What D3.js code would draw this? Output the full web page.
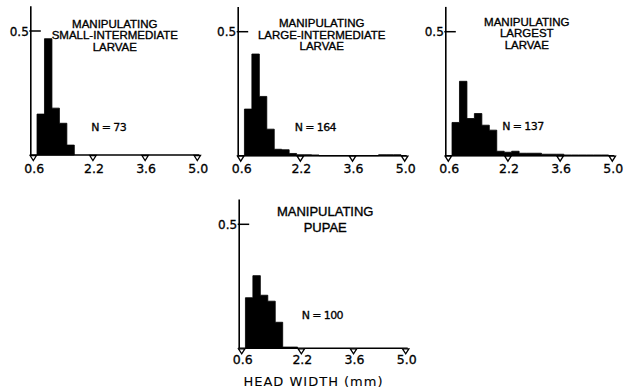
<!DOCTYPE html>
<html>
<head>
<meta charset="utf-8">
<script src="https://cdn.jsdelivr.net/npm/d3@7"></script>
<style>
  body { margin: 0; background: #fff; }
  text { font-family: "DejaVu Sans", "Liberation Sans", Arial, sans-serif; fill: #000; stroke: #000; stroke-width: 0.3px; }
  text.title { font-family: "Liberation Sans", Arial, sans-serif; stroke-width: 0.35px; }
</style>
</head>
<body>
<div id="my_dataviz"></div>
<script>
// bin lower edges (mm), each bin is 0.2 mm wide
var binStart = [0.7, 0.9, 1.1, 1.3, 1.5, 1.7, 1.9, 2.1, 2.3, 2.5, 2.7, 2.9, 3.1, 3.3, 3.5, 3.7, 3.9, 4.1, 4.3, 4.5, 4.7];
var binWidth = 0.2;

// proportion of individuals in each bin, one array per panel
var smallInterLarvae = [0.165, 0.469, 0.189, 0.128, 0.040];
var largeInterLarvae = [0.188, 0.410, 0.239, 0.107, 0.026, 0.024, 0.009, 0.004, 0.004, 0.003, 0, 0, 0, 0, 0, 0, 0, 0, 0.004, 0.004, 0.004];
var largestLarvae = [0.134, 0.300, 0.150, 0.170, 0.123, 0.103, 0.018, 0.014, 0.018, 0.010, 0.010, 0.010, 0.006, 0.006, 0.006, 0.003, 0.003, 0.003, 0.003, 0.003, 0.003];
var pupae = [0.204, 0.293, 0.214, 0.190, 0.105, 0.005, 0.005];

var panelTitles = [
  ["MANIPULATING", "SMALL-INTERMEDIATE", "LARVAE"],
  ["MANIPULATING", "LARGE-INTERMEDIATE", "LARVAE"],
  ["MANIPULATING", "LARGEST", "LARVAE"],
  ["MANIPULATING", "PUPAE"]
];
var panelN = ["N = 73", "N = 164", "N = 137", "N = 100"];
var panelValues = [smallInterLarvae, largeInterLarvae, largestLarvae, pupae];

var xTicks = [0.6, 2.2, 3.6, 5.0];
var xTickLabels = ["0.6", "2.2", "3.6", "5.0"];
var yTicks = [0.5];
var xLabel = "HEAD WIDTH (mm)";

// where each small panel sits (origin = x of 0.6, baseline)
var layout = [
  {ox: 33.3,  oy: 155,   tx: 81.5, ty: [-127, -115.7, -104.3], tsize: 11.5, nx: 58, ny: -24.5},
  {ox: 240.7, oy: 155.7, tx: 81,   ty: [-128.4, -117, -105.6], tsize: 11.5, nx: 54, ny: -24.5},
  {ox: 448.3, oy: 155.7, tx: 78.5, ty: [-129.7, -118.3, -106.7], tsize: 11.5, nx: 54, ny: -25.5},
  {ox: 241.7, oy: 348.3, tx: 83.5, ty: [-132.6, -116.8], tsize: 13, nx: 60, ny: -29.3}
];

var width = 630, height = 390;

var svg = d3.select("#my_dataviz")
  .append("svg")
  .attr("width", width)
  .attr("height", height);

// scales shared by every panel, relative to the panel origin
var x = d3.scaleLinear()
  .domain([0.6, 5.0])
  .range([0, 164]);
var y = d3.scaleLinear()
  .domain([0, 0.5])
  .range([0, -124]);

panelValues.forEach(function(vals, i) {
  var L = layout[i];
  var g = svg.append("g")
    .attr("transform", "translate(" + L.ox + "," + L.oy + ")");

  // histogram drawn as one solid outline so neighbouring bars don't show seams
  var p = d3.path();
  p.moveTo(x(binStart[0]), 0);
  vals.forEach(function(v, j) {
    p.lineTo(x(binStart[j]), y(v));
    p.lineTo(x(binStart[j] + binWidth), y(v));
  });
  p.lineTo(x(binStart[vals.length - 1] + binWidth), 0);
  p.closePath();
  g.append("path")
    .attr("d", p.toString())
    .style("fill", "#000")
    .style("stroke", "#000")
    .style("stroke-width", 0.8)
    .style("stroke-linejoin", "miter");

  var axisX = x(0.6) - 2.5;

  // y axis line
  g.append("line")
    .attr("x1", axisX).attr("x2", axisX)
    .attr("y1", 1).attr("y2", y(0.6))
    .style("stroke", "#000")
    .style("stroke-width", 1.6);

  // baseline
  g.append("line")
    .attr("x1", axisX - 0.8).attr("x2", x(5.0) + 2)
    .attr("y1", 0).attr("y2", 0)
    .style("stroke", "#000")
    .style("stroke-width", 1.6);

  // y ticks
  g.selectAll("yt")
    .data(yTicks)
    .enter()
    .append("line")
      .attr("x1", axisX - 1.5).attr("x2", axisX + 10)
      .attr("y1", function(d) { return y(d); })
      .attr("y2", function(d) { return y(d); })
      .style("stroke", "#000")
      .style("stroke-width", 1.5);
  g.selectAll("ytl")
    .data(yTicks)
    .enter()
    .append("text")
      .attr("x", axisX - 2)
      .attr("y", function(d) { return y(d) + 4.5; })
      .attr("text-anchor", "end")
      .style("font-size", "12px")
      .text(function(d) { return d3.format(".1f")(d); });

  // x ticks: small open triangles hanging under the baseline
  g.selectAll("xt")
    .data(xTicks)
    .enter()
    .append("path")
      .attr("d", function(d) {
        var cx = x(d);
        return "M" + (cx - 3.2) + ",0.5L" + (cx + 3.2) + ",0.5L" + cx + ",5.5Z";
      })
      .style("fill", "#fff")
      .style("stroke", "#000")
      .style("stroke-width", 1.3);
  g.selectAll("xtl")
    .data(xTicks)
    .enter()
    .append("text")
      .attr("x", function(d) { return x(d) + 1; })
      .attr("y", i == 3 ? 15.5 : 17.5)
      .attr("text-anchor", "middle")
      .style("font-size", "12.5px")
      .text(function(d, j) { return xTickLabels[j]; });

  // panel title
  g.selectAll("title")
    .data(panelTitles[i])
    .enter()
    .append("text")
      .attr("class", "title")
      .attr("x", L.tx)
      .attr("y", function(d, j) { return L.ty[j]; })
      .attr("text-anchor", "middle")
      .style("font-size", L.tsize + "px")
      .text(function(d) { return d; });

  // sample size
  g.append("text")
    .attr("x", L.nx)
    .attr("y", L.ny)
    .style("font-size", "11px")
    .style("letter-spacing", "-0.6px")
    .text(panelN[i]);
});

// axis title under the bottom panel
svg.append("text")
  .attr("x", 313.5)
  .attr("y", 386)
  .attr("text-anchor", "middle")
  .style("font-size", "13px")
  .style("stroke-width", "0.1px")
  .style("letter-spacing", "1px")
  .text(xLabel);
</script>
</body>
</html>
